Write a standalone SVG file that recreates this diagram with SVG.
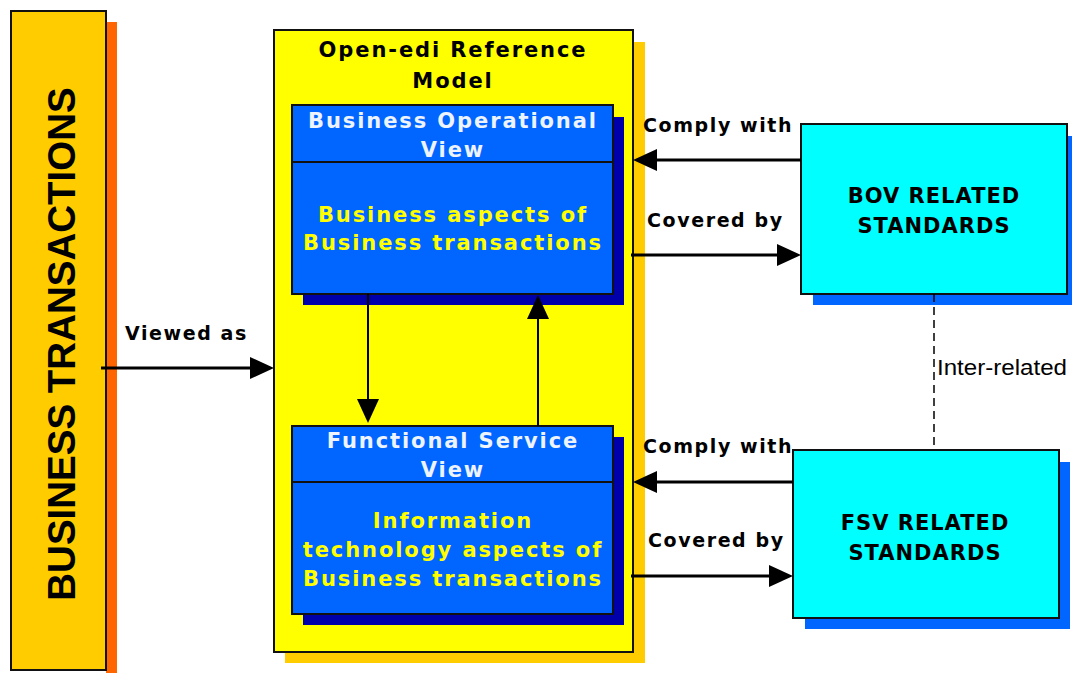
<svg xmlns="http://www.w3.org/2000/svg" width="1072" height="673" viewBox="0 0 1072 673">
  <defs>
    <marker id="head" viewBox="0 0 24 22" refX="14" refY="11" markerWidth="24" markerHeight="22" markerUnits="userSpaceOnUse" orient="auto">
      <path d="M0,0 L24,11 L0,22 Z" fill="#000"/>
    </marker>
    <style>
      .frame { stroke: #111; stroke-width: 2; }
      .box-text { font-family: "DejaVu Sans", Verdana, sans-serif; font-weight: bold; font-size: 21px; letter-spacing: 1.9px; text-anchor: middle; }
      .label { font-family: "DejaVu Sans", Verdana, sans-serif; font-weight: bold; font-size: 19px; letter-spacing: 1.6px; fill: #000; }
      .std { font-family: "DejaVu Sans", Verdana, sans-serif; font-weight: bold; font-size: 21px; letter-spacing: 1px; text-anchor: middle; fill: #000; }
      .link { stroke: #000; stroke-width: 3; fill: none; }
      .link-thin { stroke: #000; stroke-width: 2; fill: none; }
    </style>
  </defs>
  <rect width="1072" height="673" fill="#fff"/>

  <!-- Business transactions column -->
  <g id="business-transactions">
    <rect x="106" y="22" width="11" height="651" fill="#FF6600"/>
    <rect x="11" y="11" width="95" height="659" fill="#FFCC00" class="frame"/>
    <text transform="translate(75,344) rotate(-90)" text-anchor="middle" font-family="Liberation Sans, Arial, sans-serif" font-weight="bold" font-size="38.5" fill="#000">BUSINESS TRANSACTIONS</text>
  </g>

  <!-- Open-edi reference model container -->
  <g id="open-edi-model">
    <rect x="285" y="42" width="360" height="621" fill="#FFCC00"/>
    <rect x="274" y="30" width="359" height="622" fill="#FFFF00" class="frame"/>
    <text class="box-text" fill="#000" x="453" y="57">Open-edi Reference</text>
    <text class="box-text" fill="#000" x="453" y="88">Model</text>
  </g>

  <!-- Business Operational View -->
  <g id="bov">
    <rect x="303" y="117" width="321" height="188" fill="#0000AA"/>
    <rect x="292" y="105" width="321" height="189" fill="#0066FF" class="frame"/>
    <line x1="292" y1="162" x2="613" y2="162" class="frame"/>
    <text class="box-text" fill="#EEF4FF" x="453" y="128">Business Operational</text>
    <text class="box-text" fill="#EEF4FF" x="453" y="157">View</text>
    <text class="box-text" fill="#FFFF00" x="453" y="222">Business aspects of</text>
    <text class="box-text" fill="#FFFF00" x="453" y="250">Business transactions</text>
  </g>

  <!-- Functional Service View -->
  <g id="fsv">
    <rect x="303" y="437" width="321" height="188" fill="#0000AA"/>
    <rect x="292" y="426" width="321" height="188" fill="#0066FF" class="frame"/>
    <line x1="292" y1="482" x2="613" y2="482" class="frame"/>
    <text class="box-text" fill="#EEF4FF" x="453" y="448">Functional Service</text>
    <text class="box-text" fill="#EEF4FF" x="453" y="477">View</text>
    <text class="box-text" fill="#FFFF00" x="453" y="528">Information</text>
    <text class="box-text" fill="#FFFF00" x="453" y="557">technology aspects of</text>
    <text class="box-text" fill="#FFFF00" x="453" y="586">Business transactions</text>
  </g>

  <!-- BOV related standards -->
  <g id="bov-standards">
    <rect x="813" y="136" width="259" height="169" fill="#0066FF"/>
    <rect x="801" y="124" width="266" height="170" fill="#00FFFF" class="frame"/>
    <text class="std" x="934" y="203">BOV RELATED</text>
    <text class="std" x="934" y="233">STANDARDS</text>
  </g>

  <!-- FSV related standards -->
  <g id="fsv-standards">
    <rect x="805" y="462" width="265" height="167" fill="#0066FF"/>
    <rect x="793" y="450" width="266" height="168" fill="#00FFFF" class="frame"/>
    <text class="std" x="925" y="530">FSV RELATED</text>
    <text class="std" x="925" y="560">STANDARDS</text>
  </g>

  <!-- Connectors -->
  <g id="connectors">
    <line x1="101" y1="368" x2="264" y2="368" class="link" marker-end="url(#head)"/>
    <text class="label" x="125" y="340">Viewed as</text>

    <line x1="368" y1="294" x2="368" y2="413" class="link-thin" marker-end="url(#head)"/>
    <line x1="538" y1="426" x2="538" y2="305" class="link-thin" marker-end="url(#head)"/>

    <line x1="801" y1="160" x2="643" y2="160" class="link" marker-end="url(#head)"/>
    <text class="label" x="643" y="132">Comply with</text>
    <line x1="631" y1="255" x2="791" y2="255" class="link" marker-end="url(#head)"/>
    <text class="label" x="647" y="227">Covered by</text>

    <line x1="793" y1="482" x2="643" y2="482" class="link" marker-end="url(#head)"/>
    <text class="label" x="643" y="453">Comply with</text>
    <line x1="631" y1="576" x2="783" y2="576" class="link" marker-end="url(#head)"/>
    <text class="label" x="648" y="547">Covered by</text>

    <line x1="934" y1="294" x2="934" y2="450" stroke="#000" stroke-width="1.5" stroke-dasharray="8,5"/>
    <text x="937" y="375" font-family="Liberation Sans, Arial, sans-serif" font-size="22" textLength="130" lengthAdjust="spacingAndGlyphs" fill="#000">Inter-related</text>
  </g>
</svg>
